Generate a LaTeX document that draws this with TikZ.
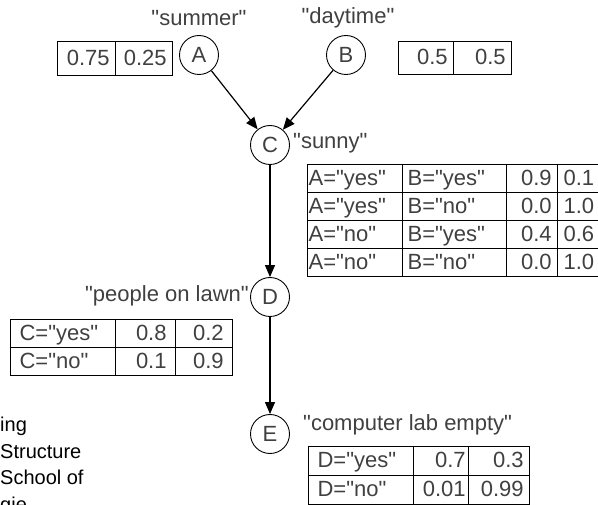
\documentclass[tikz,border=0pt]{standalone}
\usepackage{fontspec}
\setmainfont{Liberation Sans}[Ligatures=TeXOff]
\usetikzlibrary{positioning, arrows.meta}

\begin{document}
\begin{tikzpicture}[x=1pt, y=-1pt, font=\fontsize{22}{25}\selectfont]
\tikzstyle{var}=[draw, circle, minimum size=39pt, inner sep=0pt, line width=0.9pt, text=black!75]
\tikzstyle{edge}=[draw, -{Triangle[length=12pt, width=10pt]}, line width=1.2pt]
\tikzstyle{tabcell}=[draw, rectangle, anchor=north west, inner ysep=0pt, text height=17pt, text depth=4pt, line width=1.2pt, text=black!75]
\tikzstyle{num}=[tabcell, align=right, inner xsep=6pt]
\tikzstyle{lbl}=[tabcell, align=left, inner xsep=7pt]
\tikzstyle{varlabel}=[text=black!75, inner sep=0pt]

\useasboundingbox (0,0) rectangle (598,505);
\clip (0,0) rectangle (598,505);

\def \hC {28pt}
\def \hD {28pt}
\def \hE {29pt}

% variables
\node[var] (A) at (199, 55) {A};
\node[var] (B) at (346, 55) {B};
\node[var] (C) at (270,145) {C};
\node[var] (D) at (270,297) {D};
\node[var] (E) at (270,434) {E};

\node[varlabel] (summer) at (199, 18) {"summer"};
\node[varlabel] (daytime) at (348, 18) {"daytime"};
\node[varlabel, anchor=west] (sunny) at (293,143) {"sunny"};
\node[varlabel, anchor=east] (lawn) at (249,296) {"people on lawn"};
\node[varlabel, anchor=west] (lab) at (303,425) {"computer lab empty"};

% prior of A and B
\node[num, text width=46pt, minimum height=34pt] (pa1) at (57,41) {0.75};
\node[num, text width=45pt, minimum height=34pt] (pa2) at (115,41) {0.25};
\node[num, text width=43pt, minimum height=33pt] (pb1) at (398,41) {0.5};
\node[num, text width=46pt, minimum height=33pt] (pb2) at (453,41) {0.5};

% table of C given A, B
\node[lbl, inner xsep=1pt, text width=93pt, minimum height=\hC] (c11) at (307,164) {A="yes"};
\node[lbl, inner xsep=5pt, text width=94pt, minimum height=\hC] (c12) at (402,164) {B="yes"};
\node[num, text width=39pt, minimum height=\hC] (c13) at (506,164) {0.9};
\node[lbl, inner xsep=6pt, text width=39pt, minimum height=\hC] (c14) at (557,164) {0.1};
\node[lbl, inner xsep=1pt, text width=93pt, minimum height=\hC] (c21) at (307,192) {A="yes"};
\node[lbl, inner xsep=5pt, text width=94pt, minimum height=\hC] (c22) at (402,192) {B="no"};
\node[num, text width=39pt, minimum height=\hC] (c23) at (506,192) {0.0};
\node[lbl, inner xsep=6pt, text width=39pt, minimum height=\hC] (c24) at (557,192) {1.0};
\node[lbl, inner xsep=1pt, text width=93pt, minimum height=\hC] (c31) at (307,220) {A="no"};
\node[lbl, inner xsep=5pt, text width=94pt, minimum height=\hC] (c32) at (402,220) {B="yes"};
\node[num, text width=39pt, minimum height=\hC] (c33) at (506,220) {0.4};
\node[lbl, inner xsep=6pt, text width=39pt, minimum height=\hC] (c34) at (557,220) {0.6};
\node[lbl, inner xsep=1pt, text width=93pt, minimum height=\hC] (c41) at (307,248) {A="no"};
\node[lbl, inner xsep=5pt, text width=94pt, minimum height=\hC] (c42) at (402,248) {B="no"};
\node[num, text width=39pt, minimum height=\hC] (c43) at (506,248) {0.0};
\node[lbl, inner xsep=6pt, text width=39pt, minimum height=\hC] (c44) at (557,248) {1.0};

% table of D given C
\node[lbl, inner xsep=9pt, text width=87pt, minimum height=\hD] (d11) at (10,319) {C="yes"};
\node[num, inner xsep=9pt, text width=42pt, minimum height=\hD] (d12) at (115,319) {0.8};
\node[num, inner xsep=9pt, text width=39pt, minimum height=\hD] (d13) at (175,319) {0.2};
\node[lbl, inner xsep=9pt, text width=87pt, minimum height=\hD] (d21) at (10,347) {C="no"};
\node[num, inner xsep=9pt, text width=42pt, minimum height=\hD] (d22) at (115,347) {0.1};
\node[num, inner xsep=9pt, text width=39pt, minimum height=\hD] (d23) at (175,347) {0.9};

% table of E given D
\node[lbl, inner xsep=9pt, text width=87pt, minimum height=\hE] (e11) at (308,446) {D="yes"};
\node[num, inner xsep=3pt, text width=49pt, minimum height=\hE] (e12) at (413,446) {0.7\hspace{9pt}};
\node[num, text width=49pt, minimum height=\hE] (e13) at (468,446) {0.3};
\node[lbl, inner xsep=9pt, text width=87pt, minimum height=\hE] (e21) at (308,475) {D="no"};
\node[num, inner xsep=3pt, text width=49pt, minimum height=\hE] (e22) at (413,475) {0.01};
\node[num, text width=49pt, minimum height=\hE] (e23) at (468,475) {0.99};

% caption text at the side
\node[anchor=north west, align=left, inner sep=0pt, font=\fontsize{20}{26.5}\selectfont] (side) at (0,417) {ing\\Structure\\School of\\gie};

\path[edge] (A) -- (C);
\path[edge] (B) -- (C);
\path[edge] (C) -- (D);
\path[edge] (D) -- (E);

\end{tikzpicture}
\end{document}
